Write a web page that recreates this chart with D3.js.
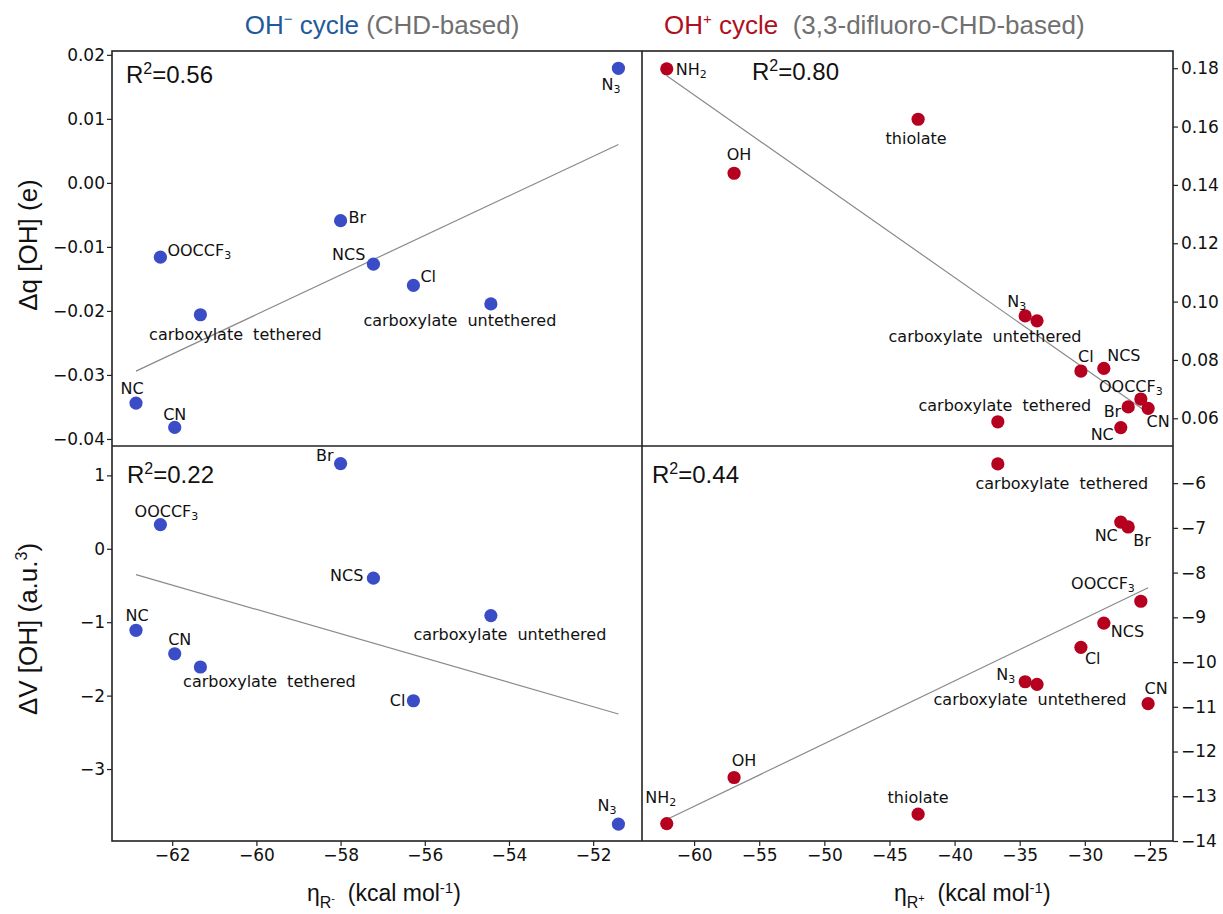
<!DOCTYPE html>
<html>
<head>
<meta charset="utf-8">
<script src="https://cdn.jsdelivr.net/npm/d3@7"></script>
<style>
  html, body { margin: 0; padding: 0; background: #fff; }
  svg { display: block; }
</style>
</head>
<body>
<svg id="chart" width="1223" height="914"></svg>
<script>
// ---------------- data ----------------
// OH- cycle (CHD-based)
const leftNames = ["NC", "CN", "OOCCF_3", "carboxylate tethered", "Br", "NCS", "Cl", "carboxylate untethered", "N_3"];
const leftEta   = [-62.86, -61.94, -62.28, -61.33, -58.0, -57.22, -56.27, -54.43, -51.4];
const leftDq    = [-0.0344, -0.0382, -0.0116, -0.0206, -0.0059, -0.0127, -0.0160, -0.0189, 0.0179];
const leftDV    = [-1.11, -1.43, 0.33, -1.61, 1.16, -0.40, -2.07, -0.91, -3.75];

// OH+ cycle (3,3-difluoro-CHD-based)
const rightNames = ["NH_2", "OH", "thiolate", "carboxylate tethered", "N_3", "carboxylate untethered", "Cl", "NCS", "NC", "Br", "OOCCF_3", "CN"];
const rightEta   = [-62.1, -56.93, -42.8, -36.68, -34.58, -33.67, -30.3, -28.54, -27.24, -26.67, -25.7, -25.14];
const rightDq    = [0.1798, 0.144, 0.1625, 0.0588, 0.0951, 0.0934, 0.0762, 0.0771, 0.0568, 0.0639, 0.0666, 0.0634];
const rightDV    = [-13.61, -12.58, -13.40, -5.57, -10.44, -10.50, -9.67, -9.13, -6.87, -6.98, -8.64, -10.93];

// fitted lines: y at the smallest and largest eta of each panel
const fitTL = [-0.0294, 0.0060];
const fitBL = [-0.352, -2.25];
const fitTR = [0.1774, 0.0618];
const fitBR = [-13.52, -8.34];

const r2Labels = ["0.56", "0.80", "0.22", "0.44"];

const ticksTL = [0.02, 0.01, 0.00, -0.01, -0.02, -0.03, -0.04];
const ticksTR = [0.18, 0.16, 0.14, 0.12, 0.10, 0.08, 0.06];
const ticksBL = [1, 0, -1, -2, -3];
const ticksBR = [-6, -7, -8, -9, -10, -11, -12, -13, -14];
const ticksXL = [-62, -60, -58, -56, -54, -52];
const ticksXR = [-60, -55, -50, -45, -40, -35, -30, -25];

// ---------------- layout ----------------
const L = 112, M = 642, R = 1173, T = 51, H = 446, B = 841;
const BLUE = "#3a4cc6", RED = "#b5001f";
const TICKFONT = "DejaVu Sans, sans-serif";
const ARIAL = "Liberation Sans, Arial, sans-serif";

// label placement [anchor, dx, dy] (layout only)
const posTL = {
  "NC": ["middle", -4, -9], "CN": ["middle", 0, -7], "OOCCF_3": ["start", 7, -1],
  "carboxylate tethered": ["middle", 35, 25], "Br": ["start", 8, 2], "NCS": ["end", -8, -4],
  "Cl": ["start", 7, -3], "carboxylate untethered": ["middle", -31, 22], "N_3": ["start", -17, 22]
};
const posBL = {
  "NC": ["middle", 1, -9], "CN": ["middle", 5, -9], "OOCCF_3": ["middle", 6, -8],
  "carboxylate tethered": ["middle", 69, 20], "Br": ["end", -7, -3], "NCS": ["end", -10, 3],
  "Cl": ["end", -8, 5], "carboxylate untethered": ["middle", 19, 24], "N_3": ["end", -2, -13]
};
const posTR = {
  "NH_2": ["start", 9, 6], "OH": ["middle", 5, -13], "thiolate": ["middle", -2, 25],
  "carboxylate tethered": ["middle", 7, -11], "N_3": ["end", 1, -9], "carboxylate untethered": ["middle", -52, 21],
  "Cl": ["middle", 5, -9], "NCS": ["middle", 20, -7], "NC": ["end", -7, 12], "Br": ["end", -7, 10],
  "OOCCF_3": ["middle", -10, -7], "CN": ["middle", 10, 19]
};
const posBR = {
  "NH_2": ["middle", -6, -21], "OH": ["middle", 10, -11], "thiolate": ["middle", 0, -11],
  "carboxylate tethered": ["middle", 64, 25], "N_3": ["end", -10, -2], "carboxylate untethered": ["middle", -7, 21],
  "Cl": ["start", 4, 17], "NCS": ["start", 7, 14], "NC": ["end", -3, 19], "Br": ["start", 5, 19],
  "OOCCF_3": ["end", -6, -12], "CN": ["middle", 8, -10]
};

const svg = d3.select("#chart");

const xLeft  = d3.scaleLinear().domain([-63.43, -50.84]).range([L, M]);
const xRight = d3.scaleLinear().domain([-64.0, -23.23]).range([M, R]);
const yTL = d3.scaleLinear().domain([-0.0411, 0.0206]).range([H, T]);
const yBL = d3.scaleLinear().domain([-3.98, 1.40]).range([B, H]);
const yTR = d3.scaleLinear().domain([0.0505, 0.1859]).range([H, T]);
const yBR = d3.scaleLinear().domain([-14.0, -5.17]).range([B, H]);

function styleAxis(g) {
  g.select(".domain").remove();
  g.selectAll(".tick line").attr("stroke", "#222").attr("stroke-width", 1.2);
  g.selectAll(".tick text").attr("fill", "#111").style("font-family", TICKFONT).style("font-size", "17px");
}

// axes
svg.append("g").attr("transform", `translate(${L},0)`)
  .call(d3.axisLeft(yTL).tickValues(ticksTL).tickFormat(d3.format(".2f")).tickSize(5).tickPadding(2)).call(styleAxis);
svg.append("g").attr("transform", `translate(${L},0)`)
  .call(d3.axisLeft(yBL).tickValues(ticksBL).tickFormat(d3.format("d")).tickSize(5).tickPadding(2)).call(styleAxis);
svg.append("g").attr("transform", `translate(${R},0)`)
  .call(d3.axisRight(yTR).tickValues(ticksTR).tickFormat(d3.format(".2f")).tickSize(5).tickPadding(3)).call(styleAxis);
svg.append("g").attr("transform", `translate(${R},0)`)
  .call(d3.axisRight(yBR).tickValues(ticksBR).tickFormat(d3.format("d")).tickSize(5).tickPadding(3)).call(styleAxis);
svg.append("g").attr("transform", `translate(0,${B})`)
  .call(d3.axisBottom(xLeft).tickValues(ticksXL).tickFormat(d3.format("d")).tickSize(5).tickPadding(3)).call(styleAxis);
svg.append("g").attr("transform", `translate(0,${B})`)
  .call(d3.axisBottom(xRight).tickValues(ticksXR).tickFormat(d3.format("d")).tickSize(5).tickPadding(3)).call(styleAxis);

// label with optional subscript "_x"
function addLabel(g, name, x, y, anchor) {
  const t = g.append("text").attr("x", x).attr("y", y).attr("text-anchor", anchor)
    .attr("fill", "#111").style("font-family", TICKFONT).style("font-size", "16px")
    .style("word-spacing", "5px");
  const parts = name.split("_");
  t.append("tspan").text(parts[0]);
  if (parts.length > 1) {
    t.append("tspan").attr("dy", 3).style("font-size", "11px").text(parts[1]);
  }
}

function panel(names, xs, ys, x, y, fit, pos, color, r2, r2x, r2y) {
  const g = svg.append("g");
  const data = names.map((n, i) => ({ n, x: xs[i], y: ys[i] }));
  const xExt = d3.extent(xs);
  g.append("line")
    .attr("x1", x(xExt[0])).attr("y1", y(fit[0]))
    .attr("x2", x(xExt[1])).attr("y2", y(fit[1]))
    .attr("stroke", "#8a8a8a").attr("stroke-width", 1.2);
  g.selectAll("circle").data(data).enter().append("circle")
    .attr("cx", d => x(d.x)).attr("cy", d => y(d.y)).attr("r", 6.6).attr("fill", color);
  data.forEach(d => {
    const p = pos[d.n];
    addLabel(g, d.n, x(d.x) + p[1], y(d.y) + p[2], p[0]);
  });
  const rt = g.append("text").attr("x", r2x).attr("y", r2y).attr("fill", "#111")
    .style("font-family", ARIAL).style("font-size", "24px");
  rt.append("tspan").text("R");
  rt.append("tspan").attr("dy", -9).style("font-size", "16px").text("2");
  rt.append("tspan").attr("dy", 9).text("=" + r2);
}

panel(leftNames, leftEta, leftDq, xLeft, yTL, fitTL, posTL, BLUE, r2Labels[0], 126, 83);
panel(rightNames, rightEta, rightDq, xRight, yTR, fitTR, posTR, RED, r2Labels[1], 752, 80);
panel(leftNames, leftEta, leftDV, xLeft, yBL, fitBL, posBL, BLUE, r2Labels[2], 127, 483);
panel(rightNames, rightEta, rightDV, xRight, yBR, fitBR, posBR, RED, r2Labels[3], 652, 483);

// frames
const frame = svg.append("g").attr("fill", "none").attr("stroke", "#222").attr("stroke-width", 1.6);
frame.append("rect").attr("x", L).attr("y", T).attr("width", R - L).attr("height", B - T);
frame.append("line").attr("x1", M).attr("x2", M).attr("y1", T).attr("y2", B);
frame.append("line").attr("x1", L).attr("x2", R).attr("y1", H).attr("y2", H);

// titles
const t1 = svg.append("text").attr("x", 382).attr("y", 34).attr("text-anchor", "middle")
  .style("font-family", ARIAL).style("font-size", "26px");
t1.append("tspan").attr("fill", "#1f5b9c").text("OH");
t1.append("tspan").attr("fill", "#1f5b9c").attr("dy", -10).style("font-size", "15px").text("\u2212");
t1.append("tspan").attr("fill", "#1f5b9c").attr("dy", 10).text(" cycle");
t1.append("tspan").attr("fill", "#707070").text(" (CHD-based)");

const t2 = svg.append("text").attr("x", 664).attr("y", 34).attr("text-anchor", "start")
  .style("font-family", ARIAL).style("font-size", "26px").style("white-space", "pre");
t2.append("tspan").attr("fill", "#b0101e").text("OH");
t2.append("tspan").attr("fill", "#b0101e").attr("dy", -10).style("font-size", "15px").text("+");
t2.append("tspan").attr("fill", "#b0101e").attr("dy", 10).text(" cycle");
t2.append("tspan").attr("fill", "#707070").text("  (3,3-difluoro-CHD-based)");

// y labels
svg.append("text").attr("transform", "translate(37,245) rotate(-90)").attr("text-anchor", "middle")
  .attr("fill", "#111").style("font-family", ARIAL).style("font-size", "26px").text("\u0394q [OH] (e)");
const yl2 = svg.append("text").attr("transform", "translate(37,629) rotate(-90)").attr("text-anchor", "middle")
  .attr("fill", "#111").style("font-family", ARIAL).style("font-size", "26px");
yl2.append("tspan").text("\u0394V [OH] (a.u.");
yl2.append("tspan").attr("dy", -10).style("font-size", "16px").text("3");
yl2.append("tspan").attr("dy", 10).text(")");

// x labels
function xLabel(x, sign) {
  const t = svg.append("text").attr("x", x).attr("y", 901).attr("fill", "#111")
    .style("font-family", ARIAL).style("font-size", "23px").style("white-space", "pre");
  t.append("tspan").text("\u03b7");
  t.append("tspan").attr("dy", 7).style("font-size", "16px").text("R");
  t.append("tspan").attr("dy", -6).style("font-size", "11px").text(sign);
  t.append("tspan").attr("dy", -1).text("  (kcal mol");
  t.append("tspan").attr("dy", -8).style("font-size", "15px").text("-1");
  t.append("tspan").attr("dy", 8).text(")");
}
xLabel(307, "-");
xLabel(894, "+");
</script>
</body>
</html>
